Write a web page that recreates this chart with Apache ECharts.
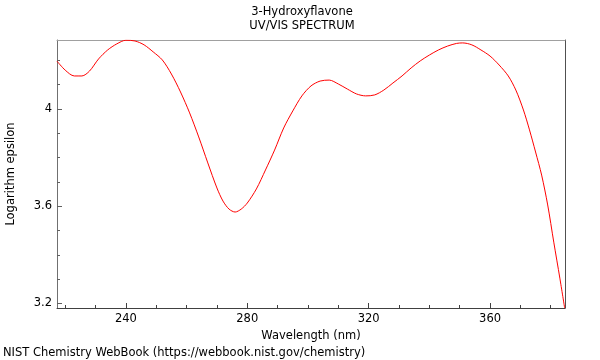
<!DOCTYPE html>
<html>
<head>
<meta charset="utf-8">
<script src="https://cdn.jsdelivr.net/npm/echarts@6/dist/echarts.min.js"></script>
<style>html,body{margin:0;padding:0;background:#fff}#c{width:600px;height:360px}</style>
</head>
<body>
<div id="c"></div>
<script>
const wavelength = [217.3,220,223,225.5,228,231,234,237,240,243,246,249,252,255,258,261,264,267,270,272,274,276,278,280,283,286,289,292,295,298,301,304,307,310,313,316,319,322,325,328,331,334,337,340,343,346,349,351,354,357,360,363,366,368.5,371,373,375,377,379,381,383,384.6];
const logEpsilon = [4.197,4.16,4.136,4.136,4.156,4.206,4.243,4.268,4.283,4.28,4.264,4.235,4.202,4.144,4.07,3.984,3.885,3.778,3.675,3.621,3.588,3.576,3.588,3.613,3.671,3.749,3.831,3.922,3.992,4.054,4.095,4.115,4.119,4.103,4.082,4.062,4.054,4.058,4.078,4.107,4.136,4.169,4.198,4.222,4.243,4.259,4.27,4.272,4.264,4.243,4.218,4.181,4.136,4.078,3.996,3.914,3.823,3.728,3.605,3.452,3.304,3.18];
const xMajorTicks = [240,280,320,360];
const xMinorTicks = [220,230,250,260,270,290,300,310,330,340,350,370,380];
const yMajorTicks = [3.2,3.6,4];
const yMinorTicks = [3.3,3.4,3.5,3.7,3.8,3.9,4.1,4.2];
const titleLines = ["3-Hydroxyflavone","UV/VIS SPECTRUM"];
const xName = "Wavelength (nm)";
const yName = "Logarithm epsilon";
const footer = "NIST Chemistry WebBook (https://webbook.nist.gov/chemistry)";

const X_MIN = 217.3, X_MAX = 384.7, Y_MIN = 3.181, Y_MAX = 4.284;
const FONT = "DejaVu Sans";
const FS = 11.5;
const chart = echarts.init(document.getElementById('c'), null, {renderer:'canvas'});
const pts = wavelength.map((w,i)=>[w, logEpsilon[i]]);
const baseX = {type:'value', min:X_MIN, max:X_MAX, splitLine:{show:false}};
const baseY = {type:'value', min:Y_MIN, max:Y_MAX, splitLine:{show:false}};
chart.setOption({
  animation:false,
  backgroundColor:'#fff',
  textStyle:{fontFamily:FONT},
  grid:{left:57, right:35, top:40, bottom:52, containLabel:false, outerBoundsMode:'none'},
  graphic:[
    {type:'text', x:302, y:6, style:{text:titleLines[0], fontFamily:FONT, fontSize:FS, fill:'#000', align:'center', verticalAlign:'top'}},
    {type:'text', x:302, y:20, style:{text:titleLines[1], fontFamily:FONT, fontSize:FS, fill:'#000', align:'center', verticalAlign:'top'}},
    {type:'text', x:3, y:347, style:{text:footer, fontFamily:FONT, fontSize:FS, fill:'#000', align:'left', verticalAlign:'top'}}
  ],
  xAxis:[
    Object.assign({}, baseX, {position:'bottom', name:xName, nameLocation:'middle', nameGap:17,
      nameTextStyle:{fontFamily:FONT, fontSize:FS, color:'#000'},
      axisLine:{show:true, onZero:false, lineStyle:{color:'#404040', width:1}},
      axisTick:{show:true, inside:true, length:5, customValues:xMajorTicks, lineStyle:{color:'#404040'}},
      axisLabel:{show:true, margin:5, customValues:xMajorTicks, fontFamily:FONT, fontSize:FS, color:'#000'}}),
    Object.assign({}, baseX, {position:'bottom',
      axisLine:{show:false, onZero:false},
      axisTick:{show:true, inside:true, length:3, customValues:xMinorTicks, lineStyle:{color:'#404040'}},
      axisLabel:{show:false}}),
    Object.assign({}, baseX, {position:'top',
      axisLine:{show:true, onZero:false, lineStyle:{color:'#a0a0a0', width:1}},
      axisTick:{show:false}, axisLabel:{show:false}})
  ],
  yAxis:[
    Object.assign({}, baseY, {position:'left', name:yName, nameLocation:'middle', nameGap:40,
      nameTextStyle:{fontFamily:FONT, fontSize:FS, color:'#000'},
      axisLine:{show:true, onZero:false, lineStyle:{color:'#707070', width:1}},
      axisTick:{show:true, inside:true, length:5, customValues:yMajorTicks, lineStyle:{color:'#606060'}},
      axisLabel:{show:true, margin:5, customValues:yMajorTicks, fontFamily:FONT, fontSize:FS, color:'#000',
        formatter:v=>String(Math.round(v*10)/10)}}),
    Object.assign({}, baseY, {position:'left',
      axisLine:{show:false, onZero:false},
      axisTick:{show:true, inside:true, length:3, customValues:yMinorTicks, lineStyle:{color:'#606060'}},
      axisLabel:{show:false}}),
    Object.assign({}, baseY, {position:'right',
      axisLine:{show:true, onZero:false, lineStyle:{color:'#505050', width:1}},
      axisTick:{show:false}, axisLabel:{show:false}})
  ],
  series:[{
    type:'line', xAxisIndex:0, yAxisIndex:0, data:pts, smooth:0.3, showSymbol:false, symbol:'none',
    clip:true, lineStyle:{color:'#ff0000', width:1}
  }]
});
</script>
</body>
</html>
